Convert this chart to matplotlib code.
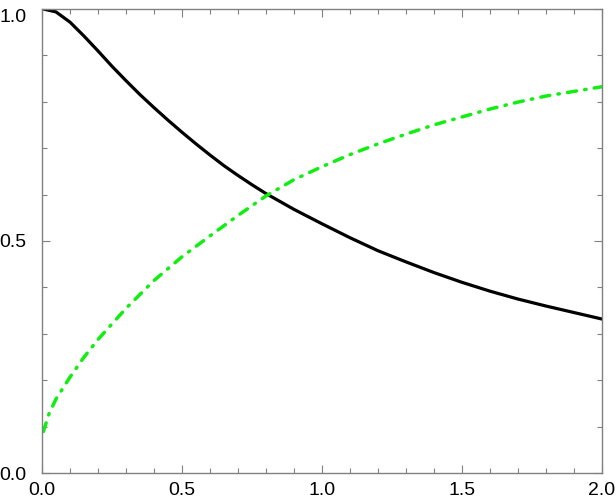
import matplotlib
matplotlib.use("Agg")
import matplotlib.pyplot as plt
from matplotlib.ticker import MultipleLocator

# values
black_x = [0.0, 0.05, 0.1, 0.15, 0.2, 0.25, 0.3, 0.35, 0.4, 0.45, 0.5, 0.55, 0.6, 0.65, 0.7,
           0.75, 0.8, 0.85, 0.9, 1.0, 1.1, 1.2, 1.3, 1.4, 1.5, 1.6, 1.7, 1.8, 1.9, 2.0]
black_y = [1.0, 0.993, 0.971, 0.941, 0.909, 0.876, 0.845, 0.815, 0.787, 0.760, 0.734, 0.709,
           0.685, 0.662, 0.641, 0.621, 0.602, 0.585, 0.568, 0.537, 0.507, 0.479, 0.455,
           0.432, 0.411, 0.392, 0.375, 0.360, 0.346, 0.332]

green_x = [0.005, 0.025, 0.05, 0.1, 0.15, 0.2, 0.3, 0.4, 0.5, 0.6, 0.7, 0.8, 0.9, 1.0, 1.1,
           1.2, 1.3, 1.4, 1.5, 1.6, 1.7, 1.8, 1.9, 2.0]
green_y = [0.090, 0.128, 0.160, 0.207, 0.250, 0.288, 0.355, 0.415, 0.466, 0.511, 0.555,
           0.597, 0.632, 0.660, 0.686, 0.709, 0.730, 0.750, 0.767, 0.784, 0.799, 0.812,
           0.822, 0.832]

x_ticks = [0.0, 0.5, 1.0, 1.5, 2.0]
y_ticks = [0.0, 0.5, 1.0]

plt.rcParams['font.family'] = ['Liberation Sans', 'DejaVu Sans']

fig = plt.figure(figsize=(6.16, 4.99), dpi=100)
ax = fig.add_axes([0.0682, 0.0515, 0.9091, 0.9311])

ax.plot(black_x, black_y, color='black', lw=2.3, solid_capstyle='round',
        solid_joinstyle='round')
ax.plot(green_x, green_y, color='#11ee11', lw=2.5, dashes=(2.6, 2.4, 0.4, 2.4),
        dash_capstyle='round', dash_joinstyle='round')

ax.set_xlim(0, 2)
ax.set_ylim(0, 1)
ax.set_xticks(x_ticks)
ax.set_yticks(y_ticks)
ax.set_xticklabels([f"{v:.1f}" for v in x_ticks])
ax.set_yticklabels([f"{v:.1f}" for v in y_ticks])
ax.xaxis.set_minor_locator(MultipleLocator(0.1))
ax.yaxis.set_minor_locator(MultipleLocator(0.1))

for s in ax.spines.values():
    s.set_color('#808080')
    s.set_linewidth(1.0)

ax.tick_params(which='both', direction='in', top=True, right=True, color='#808080',
               labelsize=14)
ax.tick_params(axis='x', pad=6)
ax.tick_params(axis='y', pad=11)
ax.tick_params(which='major', length=6, width=0.8)
ax.tick_params(which='minor', length=3.5, width=0.8)

# top y label sits a bit lower in the reference
ax.get_yticklabels()[-1].set_verticalalignment('top')

fig.savefig("out.png", dpi=100)
